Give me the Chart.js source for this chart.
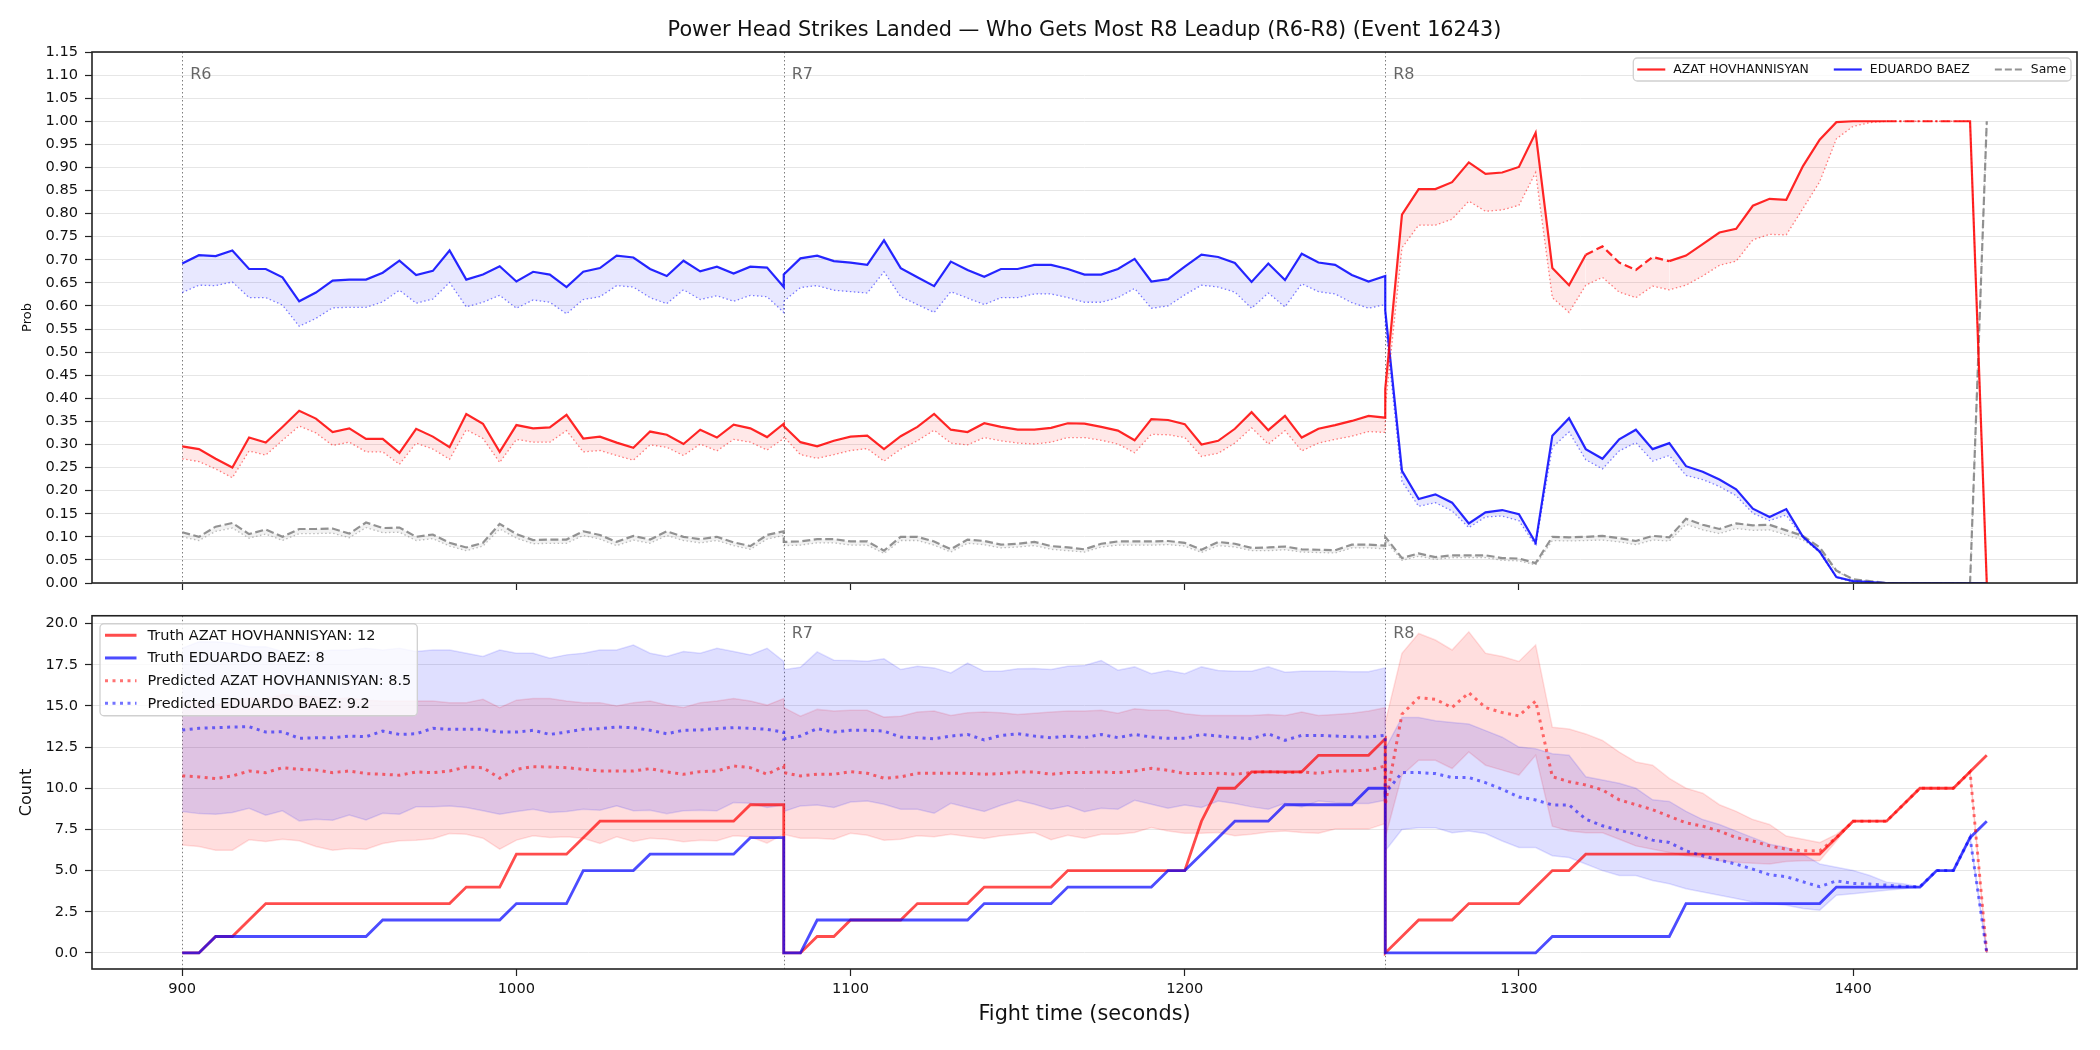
<!DOCTYPE html>
<html>
<head>
<meta charset="utf-8">
<script src="https://cdn.jsdelivr.net/npm/chart.js@4.4.1/dist/chart.umd.min.js"></script>
<style>
  html, body { margin: 0; padding: 0; background: #fff; }
  #wrap { position: relative; width: 2100px; height: 1050px; }
  #probChart { position: absolute; left: 0; top: 0; width: 2100px; height: 600px; }
  #countChart { position: absolute; left: 0; top: 600px; width: 2100px; height: 450px; }
</style>
</head>
<body>
<div id="wrap">
  <canvas id="probChart" width="2100" height="600"></canvas>
  <canvas id="countChart" width="2100" height="450"></canvas>
</div>
<script>
// ---- data ----
const times = [
  900,905,910,915,920,925,930,935,940,945,950,955,960,965,970,975,980,985,990,995,1000,1005,1010,1015,1020,1025,1030,1035,1040,1045,1050,1055,1060,1065,1070,1075,1080,
  1080,1085,1090,1095,1100,1105,1110,1115,1120,1125,1130,1135,1140,1145,1150,1155,1160,1165,1170,1175,1180,1185,1190,1195,1200,1205,1210,1215,1220,1225,1230,1235,1240,1245,1250,1255,1260,
  1260,1265,1270,1275,1280,1285,1290,1295,1300,1305,1310,1315,1320,1325,1330,1335,1340,1345,1350,1355,1360,1365,1370,1375,1380,1385,1390,1395,1400,1405,1410,1415,1420,1425,1430,1435,1440
];
const fighterNames = ['AZAT HOVHANNISYAN', 'EDUARDO BAEZ'];
const roundStarts = [900, 1080, 1260];
const roundNames = ['R6', 'R7', 'R8'];
const xTicks = [900, 1000, 1100, 1200, 1300, 1400];
const probTicks = [0,0.05,0.1,0.15,0.2,0.25,0.3,0.35,0.4,0.45,0.5,0.55,0.6,0.65,0.7,0.75,0.8,0.85,0.9,0.95,1,1.05,1.1,1.15];
const countTicks = [0, 2.5, 5, 7.5, 10, 12.5, 15, 17.5, 20];

const probRed = [
  0.296,0.290,0.269,0.250,0.315,0.304,0.338,0.373,0.356,0.327,0.335,0.312,0.312,0.282,0.334,0.317,0.294,0.366,0.345,0.284,0.342,0.335,0.337,0.364,0.313,0.317,0.304,0.293,0.328,0.321,0.301,0.332,0.315,0.343,0.335,0.316,0.345,
  0.340,0.305,0.296,0.308,0.317,0.319,0.290,0.318,0.338,0.366,0.332,0.327,0.346,0.338,0.332,0.332,0.336,0.346,0.345,0.338,0.330,0.309,0.355,0.353,0.344,0.300,0.308,0.334,0.370,0.331,0.362,0.315,0.334,0.342,0.351,0.362,0.358,
  0.42,0.798,0.853,0.853,0.868,0.911,0.886,0.889,0.901,0.975,0.682,0.645,0.711,0.729,0.694,0.678,0.706,0.697,0.709,0.734,0.759,0.767,0.817,0.832,0.830,0.903,0.960,0.998,1.0,1.0,1.0,1.0,1.0,1.0,1.0,1.0,0.0
];
const probRedLow = [
  0.269,0.263,0.247,0.228,0.286,0.277,0.309,0.340,0.325,0.298,0.305,0.284,0.284,0.257,0.303,0.290,0.268,0.332,0.313,0.261,0.311,0.305,0.305,0.330,0.284,0.287,0.276,0.266,0.299,0.294,0.276,0.301,0.286,0.311,0.305,0.288,0.313,
  0.317,0.278,0.270,0.278,0.287,0.291,0.264,0.290,0.308,0.331,0.303,0.299,0.315,0.308,0.303,0.301,0.305,0.315,0.315,0.309,0.301,0.282,0.322,0.321,0.315,0.274,0.281,0.303,0.336,0.301,0.330,0.286,0.303,0.311,0.318,0.328,0.326,
  0.38,0.726,0.775,0.775,0.788,0.827,0.805,0.808,0.818,0.889,0.618,0.586,0.645,0.662,0.630,0.618,0.643,0.635,0.645,0.665,0.688,0.697,0.743,0.755,0.754,0.811,0.869,0.962,0.989,0.997,1.0,1.0,1.0,1.0,1.0,1.0,0.0
];
const probBlue = [
  0.692,0.710,0.708,0.720,0.680,0.680,0.662,0.610,0.629,0.655,0.657,0.657,0.672,0.698,0.667,0.676,0.720,0.657,0.668,0.686,0.653,0.674,0.668,0.641,0.674,0.682,0.709,0.705,0.680,0.665,0.698,0.675,0.685,0.670,0.685,0.683,0.641,
  0.668,0.703,0.709,0.697,0.694,0.689,0.742,0.682,0.662,0.643,0.696,0.678,0.663,0.680,0.680,0.689,0.689,0.680,0.668,0.668,0.680,0.702,0.653,0.658,0.685,0.711,0.706,0.693,0.652,0.692,0.656,0.713,0.694,0.689,0.667,0.653,0.665,
  0.59,0.243,0.182,0.192,0.174,0.129,0.153,0.158,0.149,0.087,0.319,0.357,0.290,0.269,0.311,0.332,0.290,0.303,0.253,0.241,0.224,0.203,0.161,0.143,0.160,0.100,0.068,0.013,0.004,0.002,0,0,0,0,0,0,0
];
const probBlueLow = [
  0.629,0.645,0.644,0.652,0.618,0.618,0.602,0.556,0.573,0.596,0.597,0.597,0.609,0.634,0.606,0.615,0.651,0.598,0.608,0.623,0.595,0.613,0.608,0.583,0.614,0.620,0.644,0.641,0.618,0.605,0.635,0.614,0.622,0.610,0.623,0.620,0.586,
  0.610,0.640,0.644,0.634,0.631,0.628,0.674,0.620,0.603,0.586,0.631,0.617,0.603,0.618,0.618,0.626,0.626,0.618,0.608,0.608,0.618,0.638,0.595,0.600,0.624,0.645,0.641,0.630,0.595,0.628,0.598,0.648,0.631,0.626,0.607,0.595,0.603,
  0.56,0.220,0.166,0.174,0.156,0.120,0.143,0.145,0.135,0.081,0.294,0.327,0.267,0.247,0.286,0.304,0.264,0.276,0.233,0.224,0.209,0.189,0.151,0.135,0.147,0.097,0.066,0.012,0.002,0.001,0,0,0,0,0,0,0
];
const probSame = [
  0.110,0.100,0.122,0.130,0.106,0.116,0.100,0.117,0.117,0.118,0.107,0.131,0.119,0.120,0.100,0.105,0.087,0.077,0.087,0.128,0.106,0.093,0.094,0.094,0.112,0.104,0.089,0.102,0.094,0.112,0.100,0.095,0.100,0.088,0.080,0.104,0.112,
  0.089,0.090,0.095,0.095,0.090,0.090,0.070,0.100,0.100,0.090,0.073,0.094,0.091,0.083,0.085,0.089,0.080,0.077,0.073,0.085,0.090,0.090,0.090,0.091,0.087,0.072,0.089,0.085,0.076,0.077,0.079,0.073,0.072,0.071,0.083,0.083,0.081,
  0.10,0.054,0.064,0.056,0.060,0.060,0.060,0.054,0.053,0.043,0.100,0.099,0.100,0.102,0.097,0.091,0.102,0.099,0.139,0.126,0.117,0.129,0.125,0.126,0.114,0.102,0.077,0.027,0.008,0.004,0,0,0,0,0,0,1.0
];
const probSameLow = [
  0.100,0.092,0.112,0.119,0.097,0.106,0.092,0.107,0.107,0.108,0.098,0.120,0.109,0.110,0.092,0.096,0.080,0.070,0.080,0.117,0.097,0.085,0.086,0.086,0.103,0.095,0.081,0.093,0.086,0.103,0.092,0.087,0.092,0.081,0.073,0.095,0.103,
  0.081,0.082,0.087,0.087,0.082,0.082,0.064,0.092,0.092,0.082,0.067,0.086,0.083,0.076,0.078,0.081,0.073,0.070,0.067,0.078,0.082,0.082,0.082,0.083,0.080,0.066,0.081,0.078,0.070,0.070,0.072,0.067,0.066,0.065,0.076,0.076,0.074,
  0.092,0.049,0.058,0.051,0.055,0.055,0.055,0.049,0.048,0.039,0.092,0.091,0.092,0.093,0.089,0.083,0.093,0.091,0.127,0.115,0.107,0.118,0.114,0.115,0.104,0.093,0.070,0.025,0.007,0.004,0,0,0,0,0,0,1.0
];

const truthRed = [
  0,0,1,1,2,3,3,3,3,3,3,3,3,3,3,3,3,4,4,4,6,6,6,6,7,8,8,8,8,8,8,8,8,8,9,9,9,
  0,0,1,1,2,2,2,2,3,3,3,3,4,4,4,4,4,5,5,5,5,5,5,5,5,8,10,10,11,11,11,11,12,12,12,12,13,
  0,1,2,2,2,3,3,3,3,4,5,5,6,6,6,6,6,6,6,6,6,6,6,6,6,6,6,7,8,8,8,9,10,10,10,11,12
];
const truthBlue = [
  0,0,1,1,1,1,1,1,1,1,1,1,2,2,2,2,2,2,2,2,3,3,3,3,5,5,5,5,6,6,6,6,6,6,7,7,7,
  0,0,2,2,2,2,2,2,2,2,2,2,3,3,3,3,3,4,4,4,4,4,4,5,5,6,7,8,8,8,9,9,9,9,9,10,10,
  0,0,0,0,0,0,0,0,0,0,1,1,1,1,1,1,1,1,3,3,3,3,3,3,3,3,3,4,4,4,4,4,4,5,5,7,8
];
const predRed = [
  10.75,10.69,10.59,10.75,11.05,10.95,11.25,11.15,11.11,10.95,11.05,10.89,10.85,10.79,10.99,10.95,11.05,11.29,11.25,10.61,11.15,11.31,11.29,11.25,11.15,11.05,11.05,11.05,11.19,10.99,10.85,11.01,11.05,11.35,11.25,10.85,11.35,
  10.95,10.75,10.85,10.85,11.01,10.91,10.61,10.69,10.91,10.91,10.91,10.91,10.85,10.89,10.99,10.99,10.85,10.95,10.95,10.99,10.95,11.05,11.21,11.09,10.89,10.89,10.91,10.85,10.95,11.01,10.95,10.99,10.91,11.05,11.05,11.11,11.35,
  9.0,14.5,15.5,15.4,14.9,15.8,14.9,14.6,14.4,15.3,10.7,10.4,10.2,9.9,9.3,9.0,8.7,8.3,7.9,7.7,7.4,7.0,6.8,6.5,6.3,6.2,6.2,7.0,8.0,8,8,9,10,10,10,11,0
];
const predBlue = [
  13.54,13.64,13.68,13.72,13.74,13.41,13.43,13.03,13.07,13.07,13.17,13.13,13.47,13.27,13.31,13.64,13.58,13.58,13.58,13.41,13.41,13.52,13.27,13.41,13.58,13.62,13.72,13.68,13.52,13.31,13.52,13.54,13.62,13.68,13.64,13.58,13.41,
  13.0,13.17,13.62,13.41,13.52,13.52,13.47,13.11,13.07,13.01,13.17,13.27,12.93,13.21,13.31,13.17,13.07,13.17,13.07,13.27,13.07,13.27,13.11,13.03,13.03,13.27,13.17,13.07,13.01,13.31,12.91,13.21,13.21,13.17,13.13,13.11,13.21,
  9.7,10.95,10.95,10.89,10.65,10.65,10.34,9.94,9.47,9.29,8.99,8.99,8.12,7.72,7.45,7.21,6.85,6.71,6.20,5.90,5.64,5.39,5.09,4.75,4.63,4.32,4.02,4.38,4.22,4.18,4.12,4.04,4.02,5,5,7,0
];
const redBandHi = [
  15.25,15.2,15.1,15.25,15.5,15.4,15.7,15.6,15.55,15.4,15.5,15.35,15.3,15.3,15.3,15.3,15.2,15.2,15.4,14.9,15.35,15.45,15.45,15.3,15.2,15.2,15.0,15.2,15.3,15.05,14.9,15.2,15.3,15.45,15.3,15.05,15.45,
  14.9,14.38,14.79,14.69,14.73,14.73,14.32,14.38,14.63,14.69,14.42,14.59,14.63,14.59,14.48,14.55,14.63,14.69,14.69,14.73,14.55,14.83,14.73,14.73,14.52,14.42,14.42,14.42,14.42,14.48,14.42,14.63,14.42,14.48,14.55,14.69,14.89,
  14.0,18.2,19.4,19.0,18.4,19.5,18.2,18.0,17.7,18.7,13.7,13.6,13.3,12.9,12.2,11.6,11.4,10.6,10.0,9.7,9.0,8.6,8.1,7.8,7.1,6.9,6.7,7.2,8.0,8,8,9,10,10,10,11,0
];
const redBandLo = [
  6.55,6.46,6.24,6.24,6.87,6.77,6.91,6.81,6.46,6.24,6.34,6.30,6.65,6.81,6.85,6.93,7.25,7.21,6.97,6.30,6.85,7.11,7.01,7.05,6.97,6.65,7.05,6.77,6.97,6.91,6.75,6.85,6.81,7.11,7.05,6.67,7.21,
  7.2,6.97,6.97,6.91,7.27,7.15,6.85,6.91,7.11,7.05,7.21,7.07,6.95,7.11,7.21,7.31,6.87,7.15,6.97,7.21,7.21,7.31,7.62,7.41,7.27,7.27,7.31,7.11,7.21,7.35,7.41,7.31,7.27,7.52,7.52,7.52,7.86,
  7.0,10.8,11.7,11.7,11.2,12.2,11.4,11.1,10.8,12.0,7.7,7.4,7.3,7.3,6.9,6.5,6.3,6.1,5.9,5.8,5.6,5.5,5.45,5.4,5.55,5.6,5.6,6.8,8.0,8,8,9,10,10,10,11,0
];
const blueBandHi = [
  18.5,18.9,18.9,18.8,18.6,18.6,18.3,18.2,18.3,18.4,18.4,18.5,18.4,18.5,18.3,18.4,18.4,18.2,18.0,18.4,18.2,18.2,17.9,18.1,18.2,18.4,18.4,18.7,18.2,18.0,18.3,18.2,18.5,18.3,18.1,18.5,17.7,
  17.2,17.35,18.28,17.78,17.76,17.72,17.86,17.21,17.41,17.31,17.0,17.6,17.1,17.1,17.25,17.27,17.21,17.41,17.45,17.76,17.17,17.37,16.95,17.15,16.95,17.37,17.15,17.11,17.11,17.37,17.05,17.11,17.11,17.11,17.07,17.07,17.31,
  12.4,14.3,14.3,14.1,14.0,13.9,13.5,13.1,12.5,12.4,12.1,12.0,10.7,10.5,10.3,10.0,9.3,9.2,8.6,8.1,7.8,7.4,7.0,6.6,6.4,6.0,5.4,5.2,5.0,4.7,4.3,4.2,4.0,5,5,7,0
];
const blueBandLo = [
  8.59,8.46,8.42,8.53,8.79,8.36,8.63,8.02,8.12,8.06,8.38,8.08,8.48,8.42,8.87,8.87,8.93,8.83,8.63,8.42,8.59,8.73,8.53,8.59,8.73,8.67,8.93,8.63,8.67,8.46,8.63,8.67,8.63,9.13,9.09,8.83,8.99,
  8.59,8.93,8.99,8.83,9.17,9.23,9.03,8.73,8.73,8.48,9.09,8.83,8.59,8.97,9.27,9.03,8.73,8.93,8.57,8.79,8.73,9.27,9.03,8.79,8.99,8.83,9.23,9.07,8.87,8.73,9.09,8.87,9.23,9.13,9.07,9.07,9.27,
  6.2,7.5,7.6,7.6,7.3,7.4,7.25,6.8,6.4,6.4,5.9,5.8,5.4,5.0,4.7,4.7,4.4,4.2,3.9,3.7,3.5,3.3,3.1,3.0,2.9,2.7,2.6,3.5,3.6,3.7,3.8,3.9,4.0,5,5,7,0
];
const finalTruth = [12, 8];
const finalPred = [8.5, 9.2];

// ---- styling / helpers ----
const FONT = "'DejaVu Sans', sans-serif";
const RED = 'rgba(255,0,0,0.85)';
const BLUE = 'rgba(0,0,255,0.85)';
const GRAY = 'rgba(128,128,128,0.85)';

function pts(ys) {
    return times.map((t, i) => ({ x: t, y: ys[i] }));
}

function xAxis(height, withLabels) {
    return {
        type: 'linear', min: 873, max: 1467,
        afterBuildTicks: s => { s.ticks = xTicks.map(v => ({ value: v })); },
        afterFit: s => { s.height = height; },
        grid: { drawOnChartArea: false, drawTicks: true, tickLength: 7, tickColor: '#222', tickWidth: 1.2 },
        border: { display: false },
        ticks: {
            display: withLabels, color: '#111', padding: 4, maxRotation: 0, autoSkip: false,
            font: { family: FONT, size: 14.6 },
            callback: v => String(v)
        },
        title: withLabels ? {
            display: true, text: 'Fight time (seconds)', color: '#111',
            font: { family: FONT, size: 20.8 }, padding: { top: 0, bottom: 22.5 }
        } : { display: false }
    };
}

function yAxis(min, max, tickVals, digits, label, labelSize, labelPad) {
    return {
        type: 'linear', min: min, max: max,
        afterBuildTicks: s => { s.ticks = tickVals.map(v => ({ value: v })); },
        afterFit: s => { s.width = 92; },
        grid: { color: '#e6e6e6', lineWidth: 1, drawTicks: true, tickLength: 7, tickColor: '#222', tickWidth: 1.2 },
        border: { display: false },
        ticks: {
            color: '#111', padding: 7, autoSkip: false,
            font: { family: FONT, size: 14.6 },
            callback: v => Number(v).toFixed(digits)
        },
        title: {
            display: true, text: label, color: '#111',
            font: { family: FONT, size: labelSize }, padding: { top: labelPad, bottom: 0 }
        }
    };
}

function drawLegend(ctx, x, y, rows, fontSize, horizontal) {
    ctx.save();
    ctx.font = `${fontSize}px ${FONT}`;
    const widths = rows.map(r => ctx.measureText(r.label).width);
    let w, h;
    if (horizontal) {
        w = 4 + widths.reduce((a, b) => a + b, 0) + rows.length * 36 + (rows.length - 1) * 25 + 5;
        h = 23;
        x = x - w;
    } else {
        w = 5 + 42.5 + Math.max(...widths) + 6;
        h = 92;
    }
    ctx.beginPath();
    ctx.roundRect(x, y, w, h, 4);
    ctx.fillStyle = 'rgba(255,255,255,0.8)';
    ctx.fill();
    ctx.strokeStyle = '#d0d0d0';
    ctx.lineWidth = 1.3;
    ctx.stroke();
    ctx.textBaseline = 'middle';
    ctx.fillStyle = '#111';
    let cx = x + 4;
    rows.forEach((r, i) => {
        let lx, ly;
        if (horizontal) { lx = cx; ly = y + h / 2; }
        else { lx = x + 5; ly = y + 11.5 + i * 22.7; }
        ctx.beginPath();
        ctx.strokeStyle = r.color;
        ctx.lineWidth = r.width;
        ctx.setLineDash(r.dash);
        ctx.moveTo(lx, ly);
        ctx.lineTo(lx + (horizontal ? 28 : 31.5), ly);
        ctx.stroke();
        ctx.setLineDash([]);
        ctx.fillText(r.label, lx + (horizontal ? 36 : 42.5), ly + 0.5);
        if (horizontal) cx += 36 + widths[i] + 25;
    });
    ctx.restore();
}

const decorPlugin = {
    id: 'decor',
    beforeDatasetsDraw(chart, args, opts) {
        const { ctx, chartArea: a, scales: { x } } = chart;
        ctx.save();
        ctx.strokeStyle = 'rgba(40,40,40,0.6)';
        ctx.lineWidth = 1;
        ctx.setLineDash([1.5, 2.5]);
        roundStarts.forEach(t => {
            const px = Math.round(x.getPixelForValue(t)) + 0.5;
            ctx.beginPath();
            ctx.moveTo(px, a.top);
            ctx.lineTo(px, a.bottom);
            ctx.stroke();
        });
        ctx.setLineDash([]);
        ctx.fillStyle = 'rgba(0,0,0,0.6)';
        ctx.font = `16px ${FONT}`;
        ctx.textBaseline = 'middle';
        opts.labelRounds.forEach(i => {
            ctx.fillText(roundNames[i], x.getPixelForValue(roundStarts[i]) + 8, a.top + opts.labelOffset);
        });
        ctx.restore();
    },
    afterDatasetsDraw(chart) {
        const { ctx, chartArea: a } = chart;
        ctx.save();
        ctx.strokeStyle = '#222';
        ctx.lineWidth = 1.6;
        ctx.strokeRect(a.left, a.top, a.right - a.left, a.bottom - a.top);
        ctx.restore();
    },
    afterDraw(chart, args, opts) {
        const { ctx, chartArea: a } = chart;
        if (opts.title) {
            ctx.save();
            ctx.font = `20.8px ${FONT}`;
            ctx.fillStyle = '#111';
            ctx.textAlign = 'center';
            ctx.textBaseline = 'middle';
            ctx.fillText(opts.title, (a.left + a.right) / 2, 31);
            ctx.restore();
        }
        if (opts.legend === 'top') {
            drawLegend(ctx, a.right - 6, 58, [
                { label: fighterNames[0], color: RED, width: 2.2, dash: [] },
                { label: fighterNames[1], color: BLUE, width: 2.2, dash: [] },
                { label: 'Same', color: GRAY, width: 2.2, dash: [7, 3] }
            ], 12.4, true);
        } else if (opts.legend === 'bottom') {
            drawLegend(ctx, a.left + 8, 8 + a.top, [
                { label: `Truth ${fighterNames[0]}: ${finalTruth[0]}`, color: 'rgba(255,0,0,0.7)', width: 3, dash: [] },
                { label: `Truth ${fighterNames[1]}: ${finalTruth[1]}`, color: 'rgba(0,0,255,0.7)', width: 3, dash: [] },
                { label: `Predicted ${fighterNames[0]}: ${finalPred[0]}`, color: 'rgba(255,0,0,0.55)', width: 3, dash: [3, 4.5] },
                { label: `Predicted ${fighterNames[1]}: ${finalPred[1]}`, color: 'rgba(0,0,255,0.55)', width: 3, dash: [3, 4.5] }
            ], 14.5, false);
        }
    }
};

const baseOptions = {
    responsive: false,
    animation: false,
    devicePixelRatio: 1,
    events: [],
    elements: { point: { radius: 0 }, line: { tension: 0 } }
};

// red probability line switches to dashed stretches in the reference
const redDashSpans = [[1320, 1345, [8, 4]], [1410, 1430, [10, 3, 2, 3]]];

document.addEventListener('DOMContentLoaded', function() {
    new Chart(document.getElementById('probChart').getContext('2d'), {
        type: 'line',
        data: {
            datasets: [
                {
                    label: fighterNames[0], data: pts(probRed), borderColor: RED, borderWidth: 2.2,
                    fill: '+1', backgroundColor: 'rgba(255,0,0,0.09)',
                    segment: {
                        borderDash: ctx => {
                            const hit = redDashSpans.find(s => ctx.p0.parsed.x >= s[0] && ctx.p1.parsed.x <= s[1]);
                            return hit ? hit[2] : undefined;
                        }
                    }
                },
                { data: pts(probRedLow), borderColor: 'rgba(255,0,0,0.5)', borderWidth: 1.3, borderDash: [1.5, 2.5], fill: false },
                { label: fighterNames[1], data: pts(probBlue), borderColor: BLUE, borderWidth: 2.2, fill: '+1', backgroundColor: 'rgba(0,0,255,0.09)' },
                { data: pts(probBlueLow), borderColor: 'rgba(0,0,255,0.5)', borderWidth: 1.3, borderDash: [1.5, 2.5], fill: false },
                { label: 'Same', data: pts(probSame), borderColor: GRAY, borderWidth: 2.2, borderDash: [8, 3.5], fill: '+1', backgroundColor: 'rgba(128,128,128,0.1)' },
                { data: pts(probSameLow), borderColor: 'rgba(128,128,128,0.5)', borderWidth: 1.3, borderDash: [1.5, 2.5], fill: false }
            ]
        },
        options: Object.assign({}, baseOptions, {
            layout: { padding: { top: 52, right: 23, left: 0, bottom: 0 } },
            scales: {
                x: xAxis(17, false),
                y: yAxis(0, 1.15, probTicks, 2, 'Prob', 13, 20)
            },
            plugins: {
                legend: { display: false },
                tooltip: { enabled: false },
                decor: {
                    labelRounds: [0, 1, 2], labelOffset: 23, legend: 'top',
                    title: 'Power Head Strikes Landed \u2014 Who Gets Most R8 Leadup (R6-R8) (Event 16243)'
                }
            }
        }),
        plugins: [decorPlugin]
    });

    new Chart(document.getElementById('countChart').getContext('2d'), {
        type: 'line',
        data: {
            datasets: [
                { data: pts(predBlue), borderColor: 'rgba(0,0,255,0.55)', borderWidth: 3, borderDash: [3, 4.5], fill: false },
                { data: pts(predRed), borderColor: 'rgba(255,0,0,0.55)', borderWidth: 3, borderDash: [3, 4.5], fill: false },
                { data: pts(truthBlue), borderColor: 'rgba(0,0,255,0.7)', borderWidth: 2.8, fill: false },
                { data: pts(truthRed), borderColor: 'rgba(255,0,0,0.7)', borderWidth: 2.8, fill: false },
                { data: pts(blueBandHi), borderColor: 'rgba(0,0,255,0.12)', borderWidth: 1.5, fill: '+1', backgroundColor: 'rgba(0,0,255,0.125)' },
                { data: pts(blueBandLo), borderColor: 'rgba(0,0,255,0.12)', borderWidth: 1.5, fill: false },
                { data: pts(redBandHi), borderColor: 'rgba(255,0,0,0.12)', borderWidth: 1.5, fill: '+1', backgroundColor: 'rgba(255,0,0,0.13)' },
                { data: pts(redBandLo), borderColor: 'rgba(255,0,0,0.12)', borderWidth: 1.5, fill: false }
            ]
        },
        options: Object.assign({}, baseOptions, {
            layout: { padding: { top: 14, right: 23, left: 0, bottom: 0 } },
            scales: {
                x: xAxis(81, true),
                y: yAxis(-0.975, 20.475, countTicks, 1, 'Count', 16, 17.5)
            },
            plugins: {
                legend: { display: false },
                tooltip: { enabled: false },
                decor: { labelRounds: [1, 2], labelOffset: 18, legend: 'bottom' }
            }
        }),
        plugins: [decorPlugin]
    });
});
</script>
</body>
</html>
